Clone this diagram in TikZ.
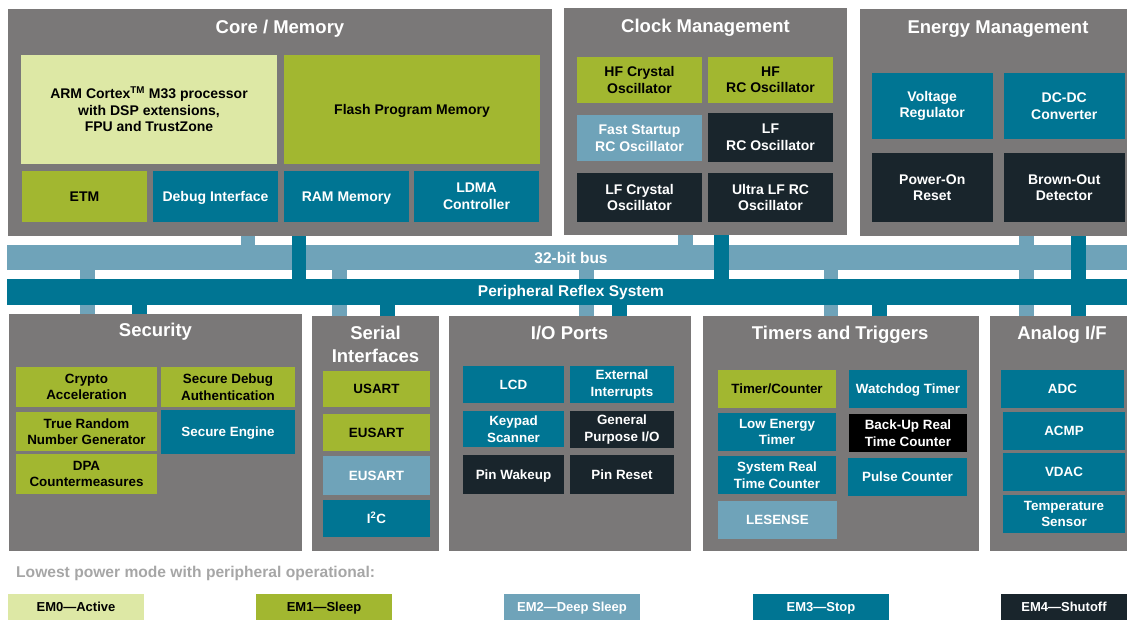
\documentclass[tikz,border=0pt]{standalone}
\usepackage{fontspec}
\setmainfont{Liberation Sans}
\usepackage{tikz}
\usetikzlibrary{positioning}
\definecolor{grpgray}{HTML}{7A7878}
\definecolor{emzero}{HTML}{DDE8A5}
\definecolor{emone}{HTML}{A2B730}
\definecolor{emtwo}{HTML}{6FA3B9}
\definecolor{emthree}{HTML}{007593}
\definecolor{emfour}{HTML}{19252C}
\definecolor{legendgray}{HTML}{A6A6A6}

\begin{document}
\begin{tikzpicture}[x=1pt,y=-1pt,
	grp/.style={fill=grpgray,inner sep=0},
	sz/.style 2 args={minimum width=#1,minimum height=#2},
	ttl/.style={text=white,anchor=base,inner sep=0,font=\bfseries\fontsize{18.5}{23}\selectfont},
	blk/.style={inner sep=0,align=center,font=\bfseries\fontsize{13.4}{16.5}\selectfont},
	bigblk/.style={blk,font=\bfseries\fontsize{14}{16.5}\selectfont},
	oneline/.style={text height=9.7pt,text depth=0pt},
	em0/.style={fill=emzero},
	em1/.style={fill=emone},
	em2/.style={fill=emtwo,text=white},
	em3/.style={fill=emthree,text=white},
	em4/.style={fill=emfour,text=white},
	emkey/.style={inner sep=0,sz={136}{27},text height=9.3pt,text depth=0pt,font=\bfseries\fontsize{13}{15}\selectfont},
	lbstub/.style={draw=emtwo,line width=14.5pt},
	tlstub/.style={draw=emthree,line width=14.5pt},
	buslbl/.style={text=white,font=\bfseries\fontsize{15.5}{18}\selectfont}]
	\useasboundingbox (0,0) rectangle (1127,620);

	\node[grp,sz={544}{227}] (core) at (280,122.5) {};
	\node[ttl] (coreT) at (280,33.3) {Core / Memory};
	\node[bigblk,em0,sz={256}{109}] (arm) at (149,109.5) {ARM Cortex\textsuperscript{TM} M33 processor\\with DSP extensions,\\FPU and TrustZone};
	\node[bigblk,oneline,em1,sz={256}{109}] (flash) at (412,109.5) {Flash Program Memory};
	\node[bigblk,oneline,em1,sz={125}{51}] (etm) at (84.5,196.5) {ETM};
	\node[bigblk,oneline,em3,sz={125}{51}] (debug) at (215.5,196.5) {Debug Interface};
	\node[bigblk,oneline,em3,sz={125}{51}] (ram) at (346.5,196.5) {RAM Memory};
	\node[bigblk,em3,sz={125}{51}] (ldma) at (476.5,196.5) {LDMA\\Controller};

	\node[grp,sz={283}{227}] (clock) at (705.5,121.5) {};
	\node[ttl] (clockT) at (705.5,32.7) {Clock Management};
	\node[bigblk,em1,sz={125}{46}] (hfxo) at (639.5,80) {HF Crystal\\Oscillator};
	\node[bigblk,em1,sz={125}{46}] (hfrco) at (770.5,80) {HF\\RC Oscillator};
	\node[bigblk,em2,sz={125}{46}] (fsrco) at (639.5,138) {Fast Startup\\RC Oscillator};
	\node[bigblk,em4,sz={125}{49}] (lfrco) at (770.5,137.5) {LF\\RC Oscillator};
	\node[bigblk,em4,sz={125}{49}] (lfxo) at (639.5,197.5) {LF Crystal\\Oscillator};
	\node[bigblk,em4,sz={125}{49}] (ulfrco) at (770.5,197.5) {Ultra LF RC\\Oscillator};

	\node[grp,sz={267}{227}] (energy) at (993.5,122.5) {};
	\node[ttl] (energyT) at (998,33.3) {Energy Management};
	\node[bigblk,em3,sz={120.5}{66}] (vreg) at (932.25,106) {Voltage\\Regulator};
	\node[bigblk,em3,sz={120.5}{66}] (dcdc) at (1064.25,106) {DC-DC\\Converter};
	\node[bigblk,em4,sz={120.5}{69}] (por) at (932.25,187.5) {Power-On\\Reset};
	\node[bigblk,em4,sz={120.5}{69}] (bod) at (1064.25,187.5) {Brown-Out\\Detector};

	\node[fill=emtwo,inner sep=0,sz={1120}{25.5}] (bus) at (567,257.5) {};
	\node[buslbl] (busT) at (571,257.5) {32-bit bus};
	\node[fill=emthree,inner sep=0,sz={1120}{26}] (prs) at (567,292) {};
	\node[buslbl] (prsT) at (571,292) {Peripheral Reflex System};

	\node[grp,sz={293}{237}] (sec) at (155.5,432.5) {};
	\node[ttl] (secT) at (155.5,336.7) {Security};
	\node[blk,em1,sz={141}{40}] (crypto) at (86.5,387) {Crypto\\Acceleration};
	\node[blk,em1,sz={134}{40}] (sda) at (228,387) {Secure Debug\\Authentication};
	\node[blk,em1,sz={141}{39}] (trng) at (86.5,431.5) {True Random\\Number Generator};
	\node[blk,oneline,em3,sz={134}{44}] (se) at (228,432) {Secure Engine};
	\node[blk,em1,sz={141}{40}] (dpa) at (86.5,474) {DPA\\Countermeasures};

	\node[grp,sz={127}{235}] (serial) at (375.5,433.5) {};
	\node[ttl,anchor=center,align=center] (serialT) at (375.5,344) {Serial\\Interfaces};
	\node[blk,oneline,em1,sz={107}{36}] (usart) at (376.5,389) {USART};
	\node[blk,oneline,em1,sz={107}{37}] (eusart) at (376.5,432.5) {EUSART};
	\node[blk,oneline,em2,sz={107}{39}] (eusartb) at (376.5,475.5) {EUSART};
	\node[blk,oneline,em3,sz={107}{37}] (iic) at (376.5,518.5) {I\textsuperscript{2}C};

	\node[grp,sz={242}{235}] (io) at (570,433.5) {};
	\node[ttl] (ioT) at (569.5,339) {I/O Ports};
	\node[blk,oneline,em3,sz={101}{37}] (lcd) at (513.5,384.5) {LCD};
	\node[blk,em3,sz={104}{37}] (extint) at (622,384.5) {External\\Interrupts};
	\node[blk,em3,sz={101}{36}] (keypad) at (513.5,429) {Keypad\\Scanner};
	\node[blk,em4,sz={104}{37}] (gpio) at (622,429.5) {General\\Purpose I/O};
	\node[blk,oneline,em4,sz={101}{39}] (pinwake) at (513.5,474.5) {Pin Wakeup};
	\node[blk,oneline,em4,sz={104}{39}] (pinreset) at (622,474.5) {Pin Reset};

	\node[grp,sz={276}{235}] (timers) at (841,433.5) {};
	\node[ttl] (timersT) at (840.2,339) {Timers and Triggers};
	\node[blk,oneline,em1,sz={118}{38}] (timer) at (777,389) {Timer/Counter};
	\node[blk,oneline,em3,sz={118}{38}] (wdog) at (908,389) {Watchdog Timer};
	\node[blk,em3,sz={118}{38}] (letimer) at (777,432) {Low Energy\\Timer};
	\node[blk,fill=black,text=white,sz={118}{38}] (burtc) at (908,433) {Back-Up Real\\Time Counter};
	\node[blk,em3,sz={118}{38}] (sysrtc) at (777,475) {System Real\\Time Counter};
	\node[blk,oneline,em3,sz={119}{38}] (pcnt) at (907.5,477) {Pulse Counter};
	\node[blk,oneline,em2,sz={119}{38}] (lesense) at (777.5,520) {LESENSE};

	\node[grp,sz={137}{235}] (analog) at (1058.5,433.5) {};
	\node[ttl] (analogT) at (1062,339) {Analog I/F};
	\node[blk,oneline,em3,sz={123}{38}] (adc) at (1062.5,389) {ADC};
	\node[blk,oneline,em3,sz={122}{38}] (acmp) at (1064,431) {ACMP};
	\node[blk,oneline,em3,sz={122}{38}] (vdac) at (1064,472) {VDAC};
	\node[blk,em3,sz={122}{38}] (temp) at (1064,514) {Temperature\\Sensor};

	\draw[lbstub] (core.south -| 248,0) -- (bus.north -| 248,0);
	\draw[tlstub] (core.south -| 299,0) -- (prs.north -| 299,0);
	\draw[lbstub] (clock.south -| 685.5,0) -- (bus.north -| 685.5,0);
	\draw[tlstub] (clock.south -| 721.5,0) -- (prs.north -| 721.5,0);
	\draw[lbstub] (energy.south -| 1026.5,0) -- (bus.north -| 1026.5,0) (bus.south -| 1026.5,0) -- (prs.north -| 1026.5,0) (prs.south -| 1026.5,0) -- (analog.north -| 1026.5,0);
	\draw[tlstub] (energy.south -| 1078.5,0) -- (analog.north -| 1078.5,0);
	\draw[lbstub] (bus.south -| 87.5,0) -- (prs.north -| 87.5,0) (prs.south -| 87.5,0) -- (sec.north -| 87.5,0);
	\draw[tlstub] (prs.south -| 139.5,0) -- (sec.north -| 139.5,0);
	\draw[lbstub] (bus.south -| 339.5,0) -- (prs.north -| 339.5,0) (prs.south -| 339.5,0) -- (serial.north -| 339.5,0);
	\draw[tlstub] (prs.south -| 387.5,0) -- (serial.north -| 387.5,0);
	\draw[lbstub] (bus.south -| 586.5,0) -- (prs.north -| 586.5,0) (prs.south -| 586.5,0) -- (io.north -| 586.5,0);
	\draw[tlstub] (prs.south -| 619.5,0) -- (io.north -| 619.5,0);
	\draw[lbstub] (bus.south -| 831,0) -- (prs.north -| 831,0) (prs.south -| 831,0) -- (timers.north -| 831,0);
	\draw[tlstub] (prs.south -| 879.5,0) -- (timers.north -| 879.5,0);

	\node[anchor=base west,inner sep=0,text=legendgray,font=\bfseries\fontsize{15.6}{18}\selectfont] (lowest) at (16,577.5) {Lowest power mode with peripheral operational:};
	\node[emkey,em0] (emzeroK) at (76,607) {EM0---Active};
	\node[emkey,em1] (emoneK) at (324,607) {EM1---Sleep};
	\node[emkey,em2] (emtwoK) at (572,607) {EM2---Deep Sleep};
	\node[emkey,em3] (emthreeK) at (821,607) {EM3---Stop};
	\node[emkey,em4,minimum width=126] (emfourK) at (1064,607) {EM4---Shutoff};
\end{tikzpicture}
\end{document}
